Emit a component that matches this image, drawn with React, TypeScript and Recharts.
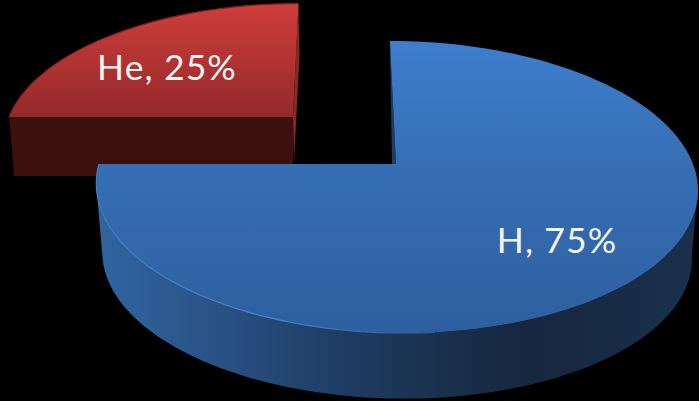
import { Cell, Pie, PieChart } from 'recharts';

const elements = ['He', 'H'];
const shares = [25, 75];
const pieData = elements.map((name, i) => ({ name, value: shares[i] }));

const WIDTH = 699;
const HEIGHT = 401;
const PERSPECTIVE = 0.1575;
const BACK_ANGLE = 90;
// where the disc outline turns vertical on screen
const TANGENT_ANGLE = (Math.asin(PERSPECTIVE) * 180) / Math.PI;

interface SliceView {
  dx: number;
  dy: number;
  scale: number;
  tilt: number;
  shear: number;
  depth: number;
  taper: number;
  edgeFill: string;
  wallFill: string;
  edgeRim: [number, number];
  edgeApex: [number, number];
  outline: string;
  labelX: number;
  labelY: number;
}

const sliceViews: Record<string, SliceView> = {
  H: {
    dx: 0,
    dy: 0,
    scale: 1,
    tilt: 0.4795,
    shear: -0.0236,
    depth: 69,
    taper: 0.98,
    edgeFill: '#1f3d62',
    wallFill: 'url(#blueWall)',
    edgeRim: [0, 0],
    edgeApex: [-4, 0],
    outline: 'url(#blueRim)',
    labelX: 557,
    labelY: 253,
  },
  He: {
    dx: -103,
    dy: -47,
    scale: 0.956,
    tilt: 0.4626,
    shear: 0.0225,
    depth: 59,
    taper: 0.982,
    edgeFill: '#8a2624',
    wallFill: '#3d100f',
    edgeRim: [1, 52],
    edgeApex: [1, 46],
    outline: '#7a2422',
    labelX: 167,
    labelY: 80,
  },
};

type Pt = [number, number];

const toLine = (pts: Pt[]) => `M${pts.map(([x, y]) => `${x.toFixed(1)},${y.toFixed(1)}`).join('L')}`;
const toPath = (pts: Pt[]) => `${toLine(pts)}Z`;

// Pie angle onto the tilted disc, nearer edge drawn larger
function project(angle: number, apex: Pt, radius: number, view: SliceView): Pt {
  const u = Math.cos((angle * Math.PI) / 180);
  const v = Math.sin((angle * Math.PI) / 180);
  const w = 1 + PERSPECTIVE * v;
  return [apex[0] + (radius * (u + view.shear * v)) / w, apex[1] - (radius * view.tilt * v) / w];
}

function sweep(from: number, to: number, apex: Pt, radius: number, view: SliceView): Pt[] {
  const steps = Math.max(2, Math.ceil(Math.abs(to - from) / 2));
  const pts: Pt[] = [];
  for (let i = 0; i <= steps; i++) {
    pts.push(project(from + ((to - from) * i) / steps, apex, radius, view));
  }
  return pts;
}

function Slice3D(props: any) {
  const { cx, cy, outerRadius, startAngle, endAngle, name, fill } = props;
  const view = sliceViews[name];
  const apex: Pt = [cx + view.dx, cy + view.dy];
  const radius = outerRadius * view.scale;
  const rim = sweep(startAngle, endAngle, apex, radius, view);
  const extrude = ([x, y]: Pt): Pt => [
    apex[0] + (x - apex[0]) * view.taper,
    apex[1] + (y - apex[1]) * view.taper + view.depth,
  ];

  const backRim = project(BACK_ANGLE, apex, radius, view);
  const edge: Pt[] = [
    backRim,
    [backRim[0] + view.edgeRim[0], backRim[1] + view.edgeRim[1]],
    [apex[0] + view.edgeApex[0], apex[1] + view.edgeApex[1]],
    apex,
  ];

  const front = Math.min(startAngle, endAngle) < 0;
  let wall: Pt[];
  if (front) {
    // outer wall of the big slice, between the two outline tangents
    const lip = sweep(-180 + TANGENT_ANGLE, -TANGENT_ANGLE, apex, radius, view);
    wall = [...lip, ...lip.map(extrude).reverse()];
  } else {
    // flat cut face of the pulled-out slice
    const corner = project(Math.max(startAngle, endAngle), apex, radius, view);
    wall = [corner, apex, extrude(apex), extrude(corner)];
  }
  const lit = front ? sweep(-180, -85, apex, radius, view) : rim;

  return (
    <g>
      <path d={toPath(wall)} fill={view.wallFill} />
      <path d={toPath(edge)} fill={view.edgeFill} />
      <path d={toPath([apex, ...rim])} fill={fill} />
      <path d={toLine(lit)} fill='none' stroke={view.outline} strokeWidth={1.2} />
    </g>
  );
}

function sliceLabel({ name, value }: any) {
  const view = sliceViews[name];
  return (
    <text
      x={view.labelX}
      y={view.labelY}
      textAnchor='middle'
      fill='#f4f4f4'
      fontFamily='Lato, "Open Sans", sans-serif'
      fontSize={35.5}
      letterSpacing={1.1}
    >
      {`${name}, ${value}%`}
    </text>
  );
}

export default function App() {
  return (
    <div style={{ position: 'absolute', left: 0, top: 0, width: WIDTH, height: HEIGHT, background: '#000', overflow: 'hidden' }}>
      <PieChart width={WIDTH} height={HEIGHT} margin={{ top: 0, right: 0, bottom: 0, left: 0 }}>
        <defs>
          <linearGradient id='blueTop' gradientUnits='userSpaceOnUse' x1={0} y1={41} x2={0} y2={333}>
            <stop offset='0%' stopColor='#3e7ecd' />
            <stop offset='42%' stopColor='#366fb4' />
            <stop offset='100%' stopColor='#2d5f9f' />
          </linearGradient>
          <linearGradient id='blueWall' gradientUnits='userSpaceOnUse' x1={96} y1={0} x2={697} y2={0}>
            <stop offset='0%' stopColor='#3065a0' />
            <stop offset='18%' stopColor='#2a5488' />
            <stop offset='36%' stopColor='#20416a' />
            <stop offset='52%' stopColor='#1b3453' />
            <stop offset='72%' stopColor='#16273e' />
            <stop offset='100%' stopColor='#1a304d' />
          </linearGradient>
          <linearGradient id='blueRim' gradientUnits='userSpaceOnUse' x1={96} y1={0} x2={420} y2={0}>
            <stop offset='0%' stopColor='#3d7dc8' />
            <stop offset='55%' stopColor='#4c8ad2' />
            <stop offset='100%' stopColor='#2d5f9f' />
          </linearGradient>
          <linearGradient id='redTop' gradientUnits='userSpaceOnUse' x1={0} y1={3} x2={0} y2={117}>
            <stop offset='0%' stopColor='#cf3d3a' />
            <stop offset='100%' stopColor='#94292a' />
          </linearGradient>
        </defs>
        <Pie
          data={pieData}
          dataKey='value'
          nameKey='name'
          cx={396}
          cy={164}
          innerRadius={0}
          outerRadius={297}
          startAngle={180}
          endAngle={-180}
          paddingAngle={0}
          stroke='none'
          shape={Slice3D}
          label={sliceLabel}
          labelLine={false}
          isAnimationActive={false}
        >
          <Cell fill='url(#redTop)' />
          <Cell fill='url(#blueTop)' />
        </Pie>
      </PieChart>
    </div>
  );
}
